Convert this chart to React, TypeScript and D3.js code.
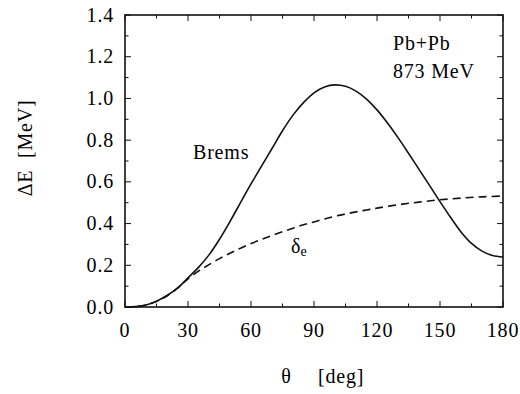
import React from "react";
import * as d3 from "d3";

const theta = [0, 5, 10, 15, 20, 25, 30, 35, 40, 45, 50, 55, 60, 65, 70, 75, 80, 85, 90, 95, 100, 105, 110, 115, 120, 125, 130, 135, 140, 145, 150, 155, 160, 165, 170, 175, 180];
const brems = [0, 0.002, 0.01, 0.028, 0.055, 0.09, 0.14, 0.19, 0.25, 0.325, 0.41, 0.5, 0.59, 0.675, 0.76, 0.845, 0.92, 0.98, 1.027, 1.055, 1.065, 1.058, 1.035, 0.997, 0.945, 0.882, 0.812, 0.737, 0.66, 0.583, 0.505, 0.43, 0.36, 0.305, 0.268, 0.247, 0.24];
const deltaTheta = [0, 5, 10, 15, 20, 25, 30, 35, 40, 45, 50, 55, 60, 65, 70, 75, 80, 85, 90, 95, 100, 105, 110, 115, 120, 130, 140, 150, 160, 170, 180];
const deltaE = [0, 0.002, 0.01, 0.027, 0.053, 0.09, 0.135, 0.172, 0.203, 0.232, 0.258, 0.282, 0.304, 0.324, 0.343, 0.361, 0.378, 0.394, 0.408, 0.422, 0.435, 0.446, 0.456, 0.465, 0.474, 0.49, 0.503, 0.514, 0.522, 0.528, 0.532];
const xTicks = [0, 30, 60, 90, 120, 150, 180];
const yTicks = [0, 0.2, 0.4, 0.6, 0.8, 1.0, 1.2, 1.4];

const W = 520, H = 394;
const L = 125, R = 503, T = 15, B = 307;

export default function App() {
  const x = d3.scaleLinear().domain([0, 180]).range([L, R]);
  const y = d3.scaleLinear().domain([0, 1.4]).range([B, T]);
  const line = d3.line<[number, number]>().x(d => x(d[0])).y(d => y(d[1])).curve(d3.curveCatmullRom.alpha(0.5));
  const bremsPath = line(theta.map((t, i) => [t, brems[i]] as [number, number])) || "";
  const deltaPath = line(deltaTheta.map((t, i) => [t, deltaE[i]] as [number, number])) || "";
  const xMinor = d3.range(0, 181, 15);
  const yMinor = d3.range(0, 15).map(i => i / 10);
  const fs = 20;
  const ls = 0.8;
  return (
    <svg width={W} height={H} style={{ position: "absolute", left: 0, top: 0, background: "#fff" }}>
      <style>{`text { font-family: "Liberation Serif"; fill: #000; }`}</style>
      <rect x={0} y={0} width={W} height={H} fill="#fff" />
      {xMinor.map(v => {
        const len = v % 30 === 0 ? 6 : 3.5;
        return (
          <g key={"xt" + v} stroke="#111" strokeWidth={1}>
            <line x1={x(v)} x2={x(v)} y1={B} y2={B - len} />
            <line x1={x(v)} x2={x(v)} y1={T} y2={T + len} />
          </g>
        );
      })}
      {yMinor.map(v => {
        const major = Math.round(v * 10) % 2 === 0;
        const len = major ? 6 : 3.5;
        return (
          <g key={"yt" + v} stroke="#111" strokeWidth={1}>
            <line x1={L} x2={L + len} y1={y(v)} y2={y(v)} />
            <line x1={R} x2={R - len} y1={y(v)} y2={y(v)} />
          </g>
        );
      })}
      <rect x={L} y={T} width={R - L} height={B - T} fill="none" stroke="#111" strokeWidth={1.6} />
      <path d={deltaPath} fill="none" stroke="#111" strokeWidth={1.6} strokeDasharray="8,5" />
      <path d={bremsPath} fill="none" stroke="#111" strokeWidth={1.6} />
      {xTicks.map(v => (
        <text key={"xl" + v} fontFamily="Liberation Serif" x={x(v)} y={337} textAnchor="middle" fontSize={fs} letterSpacing={ls}>{v}</text>
      ))}
      {yTicks.map(v => (
        <text key={"yl" + v} fontFamily="Liberation Serif" x={114} y={y(v) + 6.5} textAnchor="end" fontSize={fs} letterSpacing={ls}>{v.toFixed(1)}</text>
      ))}
      <text fontFamily="Liberation Serif" x={286} y={383} textAnchor="middle" fontSize={fs}>θ</text>
      <text fontFamily="Liberation Serif" x={318} y={383} fontSize={fs} letterSpacing={ls}>[deg]</text>
      <text fontFamily="Liberation Serif" transform={`translate(32,${148}) rotate(-90)`} textAnchor="middle" fontSize={fs} letterSpacing={ls} xmlSpace="preserve">ΔE  [MeV]</text>
      <text fontFamily="Liberation Serif" x={193} y={159} fontSize={fs} letterSpacing={ls}>Brems</text>
      <text fontFamily="Liberation Serif" x={291} y={253} fontSize={fs}>δ<tspan fontSize={14} dy={3}>e</tspan></text>
      <text fontFamily="Liberation Serif" x={393} y={50} fontSize={fs} letterSpacing={ls}>Pb+Pb</text>
      <text fontFamily="Liberation Serif" x={393} y={78} fontSize={fs} letterSpacing={ls}>873 MeV</text>
    </svg>
  );
}
